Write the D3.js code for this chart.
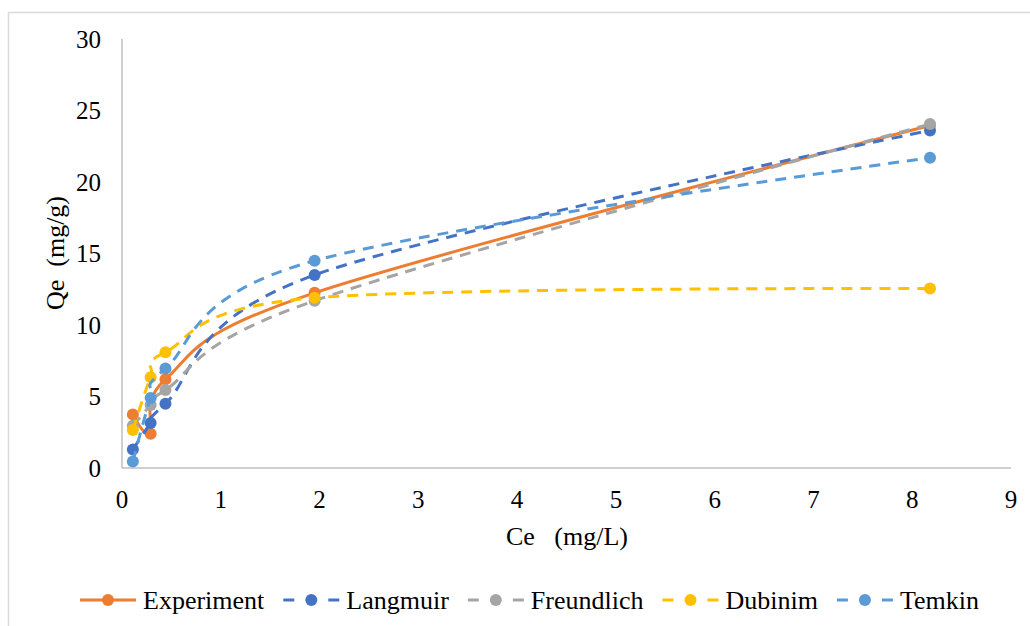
<!DOCTYPE html>
<html>
<head>
<meta charset="utf-8">
<script src="https://cdn.jsdelivr.net/npm/d3@7"></script>
<style>
  body { margin: 0; background: #fff; }
</style>
</head>
<body>
<svg id="chart" width="1030" height="626"></svg>
<script>
var width = 1030, height = 626;
var serif = "'Liberation Serif', 'DejaVu Serif', serif";

// data
var ce = [0.11, 0.29, 0.44, 1.95, 8.18];
var experiment = [3.75, 2.4, 6.2, 12.25, 23.95];
var langmuir = [1.3, 3.15, 4.5, 13.5, 23.6];
var freundlich = [2.95, 4.4, 5.45, 11.7, 24.05];
var dubinim = [2.65, 6.35, 8.1, 11.9, 12.55];
var temkin = [0.45, 4.9, 6.95, 14.5, 21.7];

var xTicks = [0, 1, 2, 3, 4, 5, 6, 7, 8, 9];
var yTicks = [0, 5, 10, 15, 20, 25, 30];

var series = [
  {name: "Experiment", values: experiment, color: "#ED7D31", dash: null},
  {name: "Langmuir", values: langmuir, color: "#4472C4", dash: "11,8"},
  {name: "Freundlich", values: freundlich, color: "#A5A5A5", dash: "11,8"},
  {name: "Dubinim", values: dubinim, color: "#FFC000", dash: "11,8"},
  {name: "Temkin", values: temkin, color: "#5B9BD5", dash: "11,8"}
];

var svg = d3.select("#chart");

// outer frame
svg.append("rect")
  .attr("x", 8.5).attr("y", 12.5)
  .attr("width", 1030).attr("height", 700)
  .attr("fill", "none")
  .attr("stroke", "#D9D9D9")
  .attr("stroke-width", 1.5);

var x = d3.scaleLinear().domain([0, 9]).range([122, 1011]);
var y = d3.scaleLinear().domain([0, 30]).range([468, 39]);

// axis lines
svg.append("line")
  .attr("x1", x(0)).attr("x2", x(0))
  .attr("y1", y(30)).attr("y2", y(0))
  .attr("stroke", "#BFBFBF").attr("stroke-width", 1.5);
svg.append("line")
  .attr("x1", x(0)).attr("x2", x(9))
  .attr("y1", y(0)).attr("y2", y(0))
  .attr("stroke", "#BFBFBF").attr("stroke-width", 1.5);

// tick labels
svg.selectAll(".ylab").data(yTicks).enter().append("text")
  .attr("class", "ylab")
  .attr("x", 101)
  .attr("y", function(d) { return y(d); })
  .attr("dy", "0.34em")
  .attr("text-anchor", "end")
  .attr("font-family", serif)
  .attr("font-size", 25)
  .text(function(d) { return d; });

svg.selectAll(".xlab").data(xTicks).enter().append("text")
  .attr("class", "xlab")
  .attr("x", function(d) { return x(d); })
  .attr("y", 508)
  .attr("text-anchor", "middle")
  .attr("font-family", serif)
  .attr("font-size", 25)
  .text(function(d) { return d; });

// axis titles
svg.append("text")
  .attr("x", 567).attr("y", 545)
  .attr("text-anchor", "middle")
  .attr("font-family", serif)
  .attr("font-size", 26)
  .style("white-space", "pre")
  .text("Ce   (mg/L)");

svg.append("text")
  .attr("transform", "translate(64,253) rotate(-90)")
  .attr("text-anchor", "middle")
  .attr("font-family", serif)
  .attr("font-size", 26)
  .style("white-space", "pre")
  .text("Qe  (mg/g)");

// series, smoothed like excel (bezier, 1/6 of neighbour span)
var line = d3.line()
  .x(function(d, i) { return x(ce[i]); })
  .y(function(d) { return y(d); })
  .curve(d3.curveCardinal.tension(0));

series.forEach(function(s) {
  var g = svg.append("g");
  g.append("path")
    .attr("d", line(s.values))
    .attr("fill", "none")
    .attr("stroke", s.color)
    .attr("stroke-width", 3)
    .attr("stroke-dasharray", s.dash);
  g.selectAll("circle").data(s.values).enter().append("circle")
    .attr("cx", function(d, i) { return x(ce[i]); })
    .attr("cy", function(d) { return y(d); })
    .attr("r", 6)
    .attr("fill", s.color);
});

// legend
var legend = svg.append("g");
var lx = 80, ly = 600;
series.forEach(function(s) {
  var item = legend.append("g");
  if (s.dash) {
    [[0, 11], [45, 56]].forEach(function(seg) {
      item.append("line")
        .attr("x1", lx + seg[0]).attr("x2", lx + seg[1])
        .attr("y1", ly).attr("y2", ly)
        .attr("stroke", s.color).attr("stroke-width", 3);
    });
  } else {
    item.append("line")
      .attr("x1", lx).attr("x2", lx + 56)
      .attr("y1", ly).attr("y2", ly)
      .attr("stroke", s.color).attr("stroke-width", 3);
  }
  item.append("circle")
    .attr("cx", lx + 28).attr("cy", ly).attr("r", 6)
    .attr("fill", s.color);
  var t = item.append("text")
    .attr("x", lx + 63).attr("y", ly)
    .attr("dy", "0.34em")
    .attr("font-family", serif)
    .attr("font-size", 26)
    .text(s.name);
  lx += 63 + t.node().getComputedTextLength() + 19;
});
</script>
</body>
</html>
